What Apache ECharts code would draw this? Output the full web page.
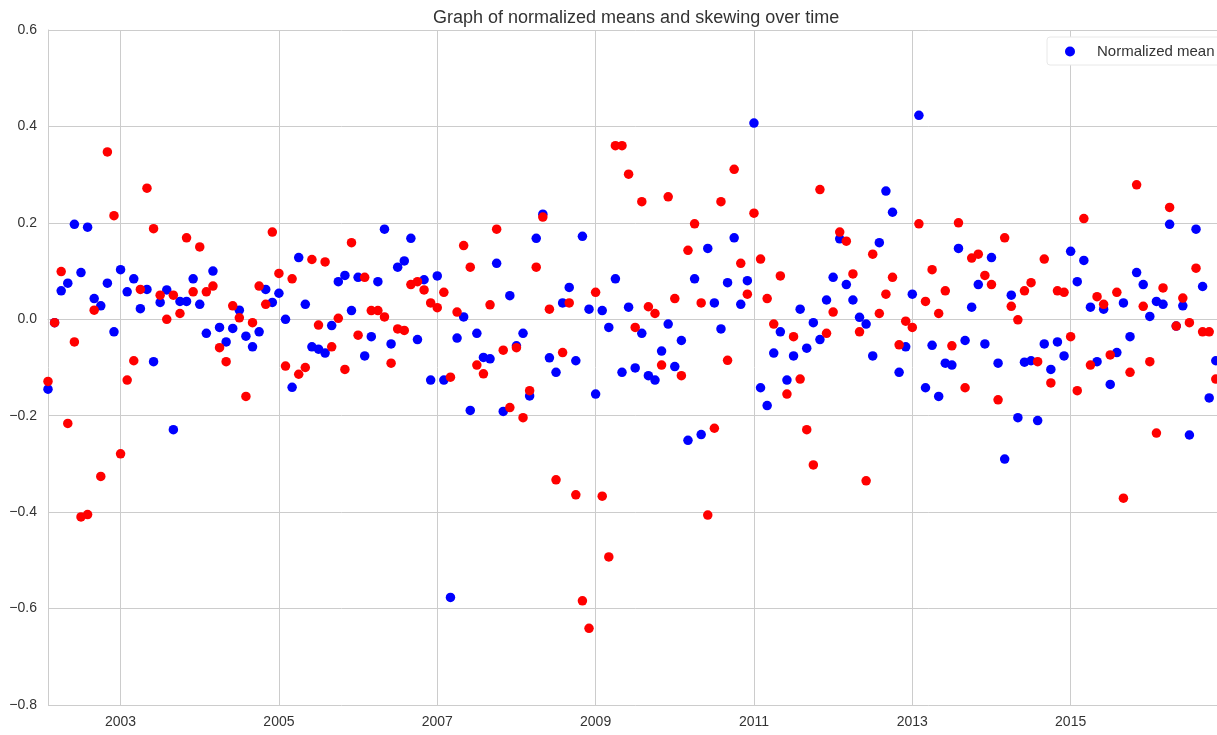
<!DOCTYPE html>
<html>
<head>
<meta charset="utf-8">
<script src="https://cdn.jsdelivr.net/npm/echarts@6/dist/echarts.min.js"></script>
<style>
html,body{margin:0;padding:0;background:#fff;overflow:hidden;width:1217px;height:735px;}
#chart{width:1240px;height:735px;}
</style>
</head>
<body>
<div id="chart"></div>
<script>
// Monthly observations, first month = January 2002 (month-end)
var startYear = 2002;
var yearTicks = [2003, 2005, 2007, 2009, 2011, 2013, 2015];
var yTicks = [-0.8, -0.6, -0.4, -0.2, 0.0, 0.2, 0.4, 0.6];

var normalizedMean = [
 -0.145,-0.007,0.059,0.075,0.197,0.097,0.191,0.043,0.028,0.075,
 -0.026,0.103,0.057,0.084,0.022,0.062,-0.088,0.035,0.061,-0.229,
 0.037,0.037,0.084,0.031,-0.029,0.100,-0.017,-0.047,-0.019,0.019,
 -0.035,-0.057,-0.026,0.062,0.035,0.054,0.000,-0.141,0.128,0.031,
 -0.057,-0.062,-0.070,-0.013,0.078,0.091,0.018,0.087,-0.076,-0.036,
 0.078,0.187,-0.051,0.108,0.121,0.168,-0.042,0.082,-0.126,0.090,
 -0.126,-0.577,-0.039,0.005,-0.189,-0.029,-0.079,-0.082,0.116,-0.191,
 0.049,-0.055,-0.029,-0.159,0.168,0.218,-0.080,-0.110,0.034,0.066,
 -0.086,0.172,0.021,-0.155,0.018,-0.017,0.084,-0.110,0.025,-0.101,
 -0.029,-0.117,-0.126,-0.066,-0.010,-0.098,-0.044,-0.251,0.084,-0.239,
 0.147,0.034,-0.020,0.076,0.169,0.031,0.080,0.407,-0.142,-0.179,
 -0.070,-0.026,-0.126,-0.076,0.021,-0.060,-0.007,-0.042,0.040,0.087,
 0.167,0.072,0.040,0.004,-0.010,-0.076,0.159,0.266,0.222,-0.110,
 -0.057,0.052,0.423,-0.142,-0.054,-0.160,-0.091,-0.095,0.147,-0.044,
 0.025,0.072,-0.051,0.128,-0.091,-0.290,0.050,-0.204,-0.089,-0.086,
 -0.210,-0.051,-0.104,-0.047,-0.076,0.141,0.078,0.122,0.025,-0.088,
 0.021,-0.135,-0.069,0.034,-0.036,0.097,0.072,0.006,0.037,0.031,
 0.197,-0.014,0.028,-0.240,0.187,0.068,-0.163,-0.086,0.289
];

var skewing = [
 -0.129,-0.007,0.099,-0.216,-0.047,-0.410,-0.405,0.019,-0.326,0.347,
 0.215,-0.279,-0.126,-0.086,0.062,0.272,0.188,0.050,0.000,0.050,
 0.012,0.169,0.057,0.150,0.057,0.069,-0.059,-0.088,0.028,0.003,
 -0.160,-0.007,0.069,0.031,0.181,0.095,-0.097,0.084,-0.114,-0.100,
 0.124,-0.012,0.119,-0.057,0.002,-0.104,0.159,-0.033,0.087,0.018,
 0.018,0.005,-0.091,-0.020,-0.023,0.072,0.078,0.061,0.034,0.024,
 0.056,-0.120,0.015,0.153,0.108,-0.095,-0.113,0.030,0.187,-0.064,
 -0.183,-0.059,-0.204,-0.148,0.108,0.212,0.021,-0.333,-0.069,0.034,
 -0.364,-0.584,-0.641,0.056,-0.367,-0.493,0.360,0.360,0.301,-0.017,
 0.244,0.026,0.012,-0.095,0.254,0.043,-0.117,0.143,0.198,0.034,
 -0.406,-0.226,0.244,-0.085,0.311,0.116,0.052,0.220,0.125,0.043,
 -0.010,0.090,-0.155,-0.036,-0.124,-0.229,-0.302,0.269,-0.029,0.015,
 0.181,0.162,0.094,-0.026,-0.335,0.135,0.012,0.052,0.087,-0.053,
 -0.004,-0.017,0.198,0.037,0.103,0.012,0.059,-0.055,0.200,-0.142,
 0.127,0.135,0.091,0.072,-0.167,0.169,0.027,-0.001,0.059,0.076,
 -0.088,0.125,-0.132,0.059,0.056,-0.036,-0.148,0.209,-0.095,0.047,
 0.031,-0.074,0.056,-0.371,-0.110,0.279,0.027,-0.088,-0.236,0.065,
 0.232,-0.014,0.044,-0.007,0.106,-0.026,-0.026,-0.124,0.092
];

function monthX(i){ return startYear + (i + 1) / 12; }
function toPairs(arr){ return arr.map(function(v, i){ return [monthX(i), v]; }); }

var xMin = monthX(0);
var xMax = monthX(normalizedMean.length - 1);
var textColor = '#333333';
var gridColor = '#cccccc';
var fontFam = '"Liberation Sans", Arial, sans-serif';

var chart = echarts.init(document.getElementById('chart'), null, {renderer: 'canvas'});
chart.setOption({
  animation: false,
  backgroundColor: '#ffffff',
  title: {
    text: 'Graph of normalized means and skewing over time',
    left: 433, top: 9, padding: 0,
    textStyle: {fontFamily: fontFam, fontSize: 18, fontWeight: 'normal', color: textColor}
  },
  legend: {
    data: ['Normalized mean'],
    left: 1047, top: 37,
    padding: [7, 40, 6, 18],
    itemWidth: 30, itemHeight: 10,
    icon: 'circle',
    selectedMode: false,
    backgroundColor: '#ffffff',
    borderColor: '#e8e8e8', borderWidth: 1, borderRadius: 3,
    textStyle: {fontFamily: fontFam, fontSize: 15, color: textColor, padding: [0, 0, 0, 7]}
  },
  grid: {left: 48, top: 30, bottom: 30, width: 1174.4, containLabel: false},
  xAxis: {
    type: 'value',
    min: xMin, max: xMax,
    axisLine: {show: true, lineStyle: {color: gridColor, width: 1}},
    axisTick: {show: false, customValues: yearTicks},
    axisLabel: {
      customValues: yearTicks,
      margin: 10,
      fontFamily: fontFam, fontSize: 14, color: textColor,
      formatter: function(v){ return String(Math.round(v)); }
    },
    splitLine: {show: false}
  },
  yAxis: {
    type: 'value',
    min: -0.8, max: 0.6, interval: 0.2,
    axisLine: {show: true, lineStyle: {color: gridColor, width: 1}},
    axisTick: {show: false},
    axisLabel: {
      margin: 11,
      fontFamily: fontFam, fontSize: 14, color: textColor,
      formatter: function(v){ return v.toFixed(1).replace('-', '\u2212'); }
    },
    splitLine: {show: true, lineStyle: {color: gridColor, width: 1}}
  },
  series: [
    {
      name: 'Normalized mean',
      type: 'scatter',
      symbol: 'circle', symbolSize: 9.5,
      itemStyle: {color: '#0000ff', opacity: 1},
      data: toPairs(normalizedMean),
      z: 2,
      markLine: {
        silent: true, symbol: ['none', 'none'],
        label: {show: false},
        lineStyle: {color: gridColor, width: 1, type: 'solid'},
        data: yearTicks.map(function(y){ return {xAxis: y}; }),
        z: 0
      }
    },
    {
      name: 'Skewing',
      type: 'scatter',
      symbol: 'circle', symbolSize: 9.5,
      itemStyle: {color: '#ff0000', opacity: 1},
      data: toPairs(skewing),
      z: 3
    }
  ]
});
</script>
</body>
</html>
